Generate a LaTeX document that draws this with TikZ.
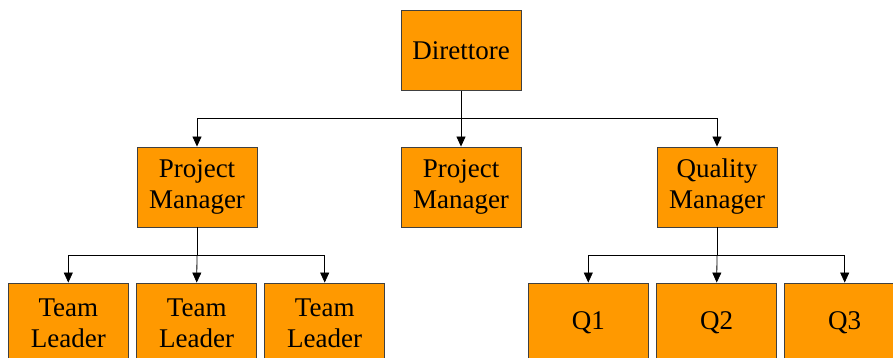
\documentclass[tikz,border=0pt]{standalone}
\usepackage{fontspec}
\setmainfont{Liberation Serif}
\usetikzlibrary{arrows.meta,calc}
\definecolor{boxfill}{HTML}{FF9900}
\definecolor{boxline}{HTML}{404040}
\begin{document}
\begin{tikzpicture}[x=1pt,y=-1pt,
  orgbox/.style={draw=boxline,line width=0.9pt,fill=boxfill,minimum width=120pt,minimum height=80pt,
    inner sep=0pt,align=center,font=\fontsize{27}{31}\selectfont},
  conn/.style={draw=black,line width=0.8pt},
  arr/.style={conn,-{Triangle[length=10pt,width=9pt]}}]
\useasboundingbox (0,0) rectangle (893,358);
\clip (0,0) rectangle (893,358);
\fill[white] (0,0) rectangle (893,358);
\node[orgbox] (d) at (461,50.5) {Direttore};
\node[orgbox] (pm1) at (197,187) {Project\\Manager};
\node[orgbox] (pm2) at (461,187) {Project\\Manager};
\node[orgbox] (qm) at (717,187) {Quality\\Manager};
\node[orgbox] (t1) at (68.3,323) {Team\\Leader};
\node[orgbox] (t2) at (196.7,323) {Team\\Leader};
\node[orgbox] (t3) at (324.7,323) {Team\\Leader};
\node[orgbox] (q1) at (588.3,323) {Q1};
\node[orgbox] (q2) at (716.7,323) {Q2};
\node[orgbox] (q3) at (844.7,323) {Q3};
\coordinate (j1) at ($(d.south)+(0,27)$);
\coordinate (j2) at ($(pm1.south)+(0,28)$);
\coordinate (j3) at ($(qm.south)+(0,28)$);
\draw[conn] (d.south) -- (j1);
\draw[arr] (j1) -| (pm1.north);
\draw[arr] (j1) -| (qm.north);
\draw[arr] (j1) -- (pm2.north);
\draw[conn] (pm1.south) -- (j2);
\draw[arr] (j2) -| (t1.north);
\draw[arr] (j2) -| (t3.north);
\draw[arr] (j2) -- (t2.north);
\draw[conn] (qm.south) -- (j3);
\draw[arr] (j3) -| (q1.north);
\draw[arr] (j3) -| (q3.north);
\draw[arr] (j3) -- (q2.north);
\end{tikzpicture}
\end{document}
